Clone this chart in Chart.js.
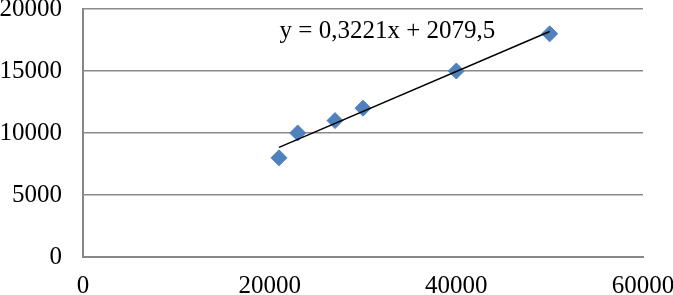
<!DOCTYPE html>
<html>
<head>
<meta charset="utf-8">
<script src="https://cdn.jsdelivr.net/npm/chart.js@4.4.1/dist/chart.umd.min.js"></script>
<style>
  html, body { margin: 0; padding: 0; background: #fff; }
  #wrap { width: 673px; height: 295px; position: relative; }
</style>
</head>
<body>
<div id="wrap"><canvas id="c" width="673" height="295"></canvas></div>
<script>
// Data
const xValues = [21000, 23000, 27000, 30000, 40000, 50000];
const yValues = [8000, 10000, 11000, 12000, 15000, 18000];
const xTicks = [0, 20000, 40000, 60000];
const yTicks = [0, 5000, 10000, 15000, 20000];

// Least-squares trendline computed from the data
const n = xValues.length;
const mx = xValues.reduce((a, b) => a + b, 0) / n;
const my = yValues.reduce((a, b) => a + b, 0) / n;
let sxy = 0, sxx = 0;
for (let i = 0; i < n; i++) {
  sxy += (xValues[i] - mx) * (yValues[i] - my);
  sxx += (xValues[i] - mx) * (xValues[i] - mx);
}
const slope = sxy / sxx;
const intercept = my - slope * mx;
const xMin = Math.min(...xValues), xMax = Math.max(...xValues);
const trendPoints = [
  { x: xMin, y: slope * xMin + intercept },
  { x: xMax, y: slope * xMax + intercept }
];
const fmt = (v, d) => v.toFixed(d).replace('.', ',');
const equationText = 'y = ' + fmt(slope, 4) + 'x + ' + fmt(intercept, 1);

const FONT = '"Liberation Serif", "Times New Roman", serif';

const equationPlugin = {
  id: 'equation',
  afterDatasetsDraw(chart) {
    const { ctx, chartArea } = chart;
    const w = chartArea.right - chartArea.left;
    const h = chartArea.bottom - chartArea.top;
    ctx.save();
    ctx.font = '25px ' + FONT;
    ctx.fillStyle = '#000';
    ctx.textAlign = 'center';
    ctx.textBaseline = 'alphabetic';
    ctx.fillText(equationText, chartArea.left + 0.5437 * w, chartArea.top + 0.117 * h);
    ctx.restore();
  }
};

new Chart(document.getElementById('c'), {
  type: 'scatter',
  data: {
    datasets: [
      {
        type: 'line',
        data: trendPoints,
        borderColor: '#000',
        borderWidth: 1.5,
        pointRadius: 0,
        fill: false,
        order: 0
      },
      {
        data: xValues.map((x, i) => ({ x: x, y: yValues[i] })),
        pointStyle: 'rectRot',
        pointRadius: 8,
        pointBackgroundColor: '#4F81BD',
        pointBorderColor: '#4F81BD',
        pointBorderWidth: 1,
        order: 1
      }
    ]
  },
  options: {
    responsive: false,
    animation: false,
    devicePixelRatio: 1,
    layout: { padding: { left: 0, right: 30, top: 9, bottom: 0 } },
    plugins: { legend: { display: false }, tooltip: { enabled: false } },
    scales: {
      x: {
        type: 'linear',
        min: 0, max: 60000,
        afterBuildTicks: s => { s.ticks = xTicks.map(v => ({ value: v })); },
        afterFit: s => { s.height = 38; s.paddingLeft = 0; s.paddingRight = 0; },
        grid: { display: false, drawTicks: false },
        border: { display: true, color: '#878787', width: 2 },
        ticks: { padding: 14, font: { family: FONT, size: 25 }, color: '#000', maxRotation: 0, autoSkip: false, callback: v => String(v) }
      },
      y: {
        type: 'linear',
        min: 0, max: 20000,
        afterBuildTicks: s => { s.ticks = yTicks.map(v => ({ value: v })); },
        afterFit: s => { s.width = 83; s.paddingTop = 0; s.paddingBottom = 0; },
        grid: { display: true, color: '#8a8a8a', lineWidth: 1.5, drawTicks: false },
        border: { display: true, color: '#878787', width: 2 },
        ticks: { padding: 21, font: { family: FONT, size: 25 }, color: '#000', autoSkip: false, callback: v => String(v) }
      }
    }
  },
  plugins: [equationPlugin]
});
</script>
</body>
</html>
